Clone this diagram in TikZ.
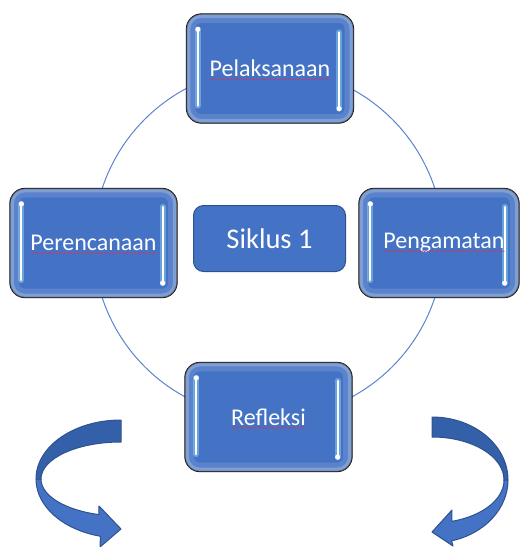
\documentclass[tikz,border=0pt]{standalone}
\usepackage{fontspec}
\setmainfont{Carlito}
\usepackage{xcolor}
\usetikzlibrary{decorations.pathmorphing}
\definecolor{boxblue}{HTML}{4472C4}
\definecolor{darkblue}{HTML}{3460AA}
\definecolor{edgeblue}{HTML}{2F528F}
\definecolor{ringblue}{HTML}{5B84CE}
\definecolor{spellred}{HTML}{B0457A}

\begin{document}
\begin{tikzpicture}[x=1pt,y=-1pt,stage/.style={rounded corners=15pt,draw=black,line width=1.3pt,fill=boxblue,minimum width=167pt,minimum height=109pt,inner sep=0pt},word/.style={text=white,inner sep=0pt,font=\fontsize{24}{28}\selectfont},shine/.style={line width=2.2pt,white,line cap=round},glint/.style={line width=6pt,white!60!cyan,opacity=.45,line cap=round},spell/.style={spellred,line width=.6pt,decorate,decoration={snake,amplitude=.6pt,segment length=3pt}},band/.style={draw=edgeblue,line width=1pt,line join=round}]
\useasboundingbox (0,0) rectangle (520,547);
\draw[ringblue,line width=1pt] (268.5,243) circle[radius=175pt];
\node[stage] (pel) at (270,68.5) {};
\node[stage] (per) at (93.5,243) {};
\node[stage,minimum width=160pt] (pen) at (439,243) {};
\node[stage] (ref) at (268.5,417) {};
\foreach \n in {pel,per,pen,ref} {
  \draw[white,opacity=.12,line width=9pt,rounded corners=10pt] ([shift={(5pt,-5pt)}]\n.north west) rectangle ([shift={(-5pt,5pt)}]\n.south east);
  \draw[white,opacity=.22,line width=4pt,rounded corners=13pt] ([shift={(2.5pt,-2.5pt)}]\n.north west) rectangle ([shift={(-2.5pt,2.5pt)}]\n.south east);
  \draw[glint] ([xshift=12pt,yshift=-16pt]\n.north west) -- ([xshift=12pt,yshift=18pt]\n.south west);
  \draw[glint] ([xshift=-15pt,yshift=-19pt]\n.north east) -- ([xshift=-15pt,yshift=15pt]\n.south east);
  \draw[shine] ([xshift=12pt,yshift=-16pt]\n.north west) -- ([xshift=12pt,yshift=18pt]\n.south west);
  \draw[shine] ([xshift=-15pt,yshift=-19pt]\n.north east) -- ([xshift=-15pt,yshift=15pt]\n.south east);
  \fill[white] ([xshift=12pt,yshift=-16pt]\n.north west) circle[radius=2.6pt];
  \fill[white] ([xshift=-15pt,yshift=15pt]\n.south east) circle[radius=2.6pt];
}
\node[word] (pel-t) at (pel) {Pelaksanaan};
\node[word] (per-t) at (per) {Perencanaan};
\node[word] (pen-t) at ([xshift=5pt]pen) {Pengamatan};
\node[word] (ref-t) at (ref) {Refleksi};
\foreach \n in {pel,per,pen,ref}
  \draw[spell] ([yshift=-2.5pt]\n-t.base west) -- ([yshift=-2.5pt]\n-t.base east);
\node[draw=edgeblue,line width=1pt,fill=boxblue,rounded corners=10pt,minimum width=152pt,minimum height=66pt,text=white,font=\fontsize{28.5}{34}\selectfont] (sik) at (269.5,238.5) {Siklus 1};
\coordinate (la) at (121,479);
\path[band,fill=darkblue] ([yshift=59pt]la) arc[start angle=90,end angle=180,x radius=85pt,y radius=59pt] -- ([xshift=-80pt]la) arc[start angle=180,end angle=90,x radius=80pt,y radius=37pt] -- cycle;
\path[band,fill=boxblue] ([xshift=-85pt]la) arc[start angle=180,end angle=256,x radius=85pt,y radius=59pt] -- (100,547) -- (121,529) -- (99,506) -- ([shift={(254:80pt and 37pt)}]la) arc[start angle=254,end angle=180,x radius=80pt,y radius=37pt] -- cycle;
\coordinate (ra) at (432,480);
\path[band,fill=darkblue] ([yshift=63pt]ra) arc[start angle=90,end angle=0,x radius=76pt,y radius=63pt] -- ([xshift=72pt]ra) arc[start angle=0,end angle=90,x radius=72pt,y radius=43pt] -- cycle;
\path[band,fill=boxblue] ([xshift=76pt]ra) arc[start angle=0,end angle=-75,x radius=76pt,y radius=63pt] -- (453,546) -- (432,532) -- (452,510) -- ([shift={(-74:72pt and 43pt)}]ra) arc[start angle=-74,end angle=0,x radius=72pt,y radius=43pt] -- cycle;
\end{tikzpicture}
\end{document}
